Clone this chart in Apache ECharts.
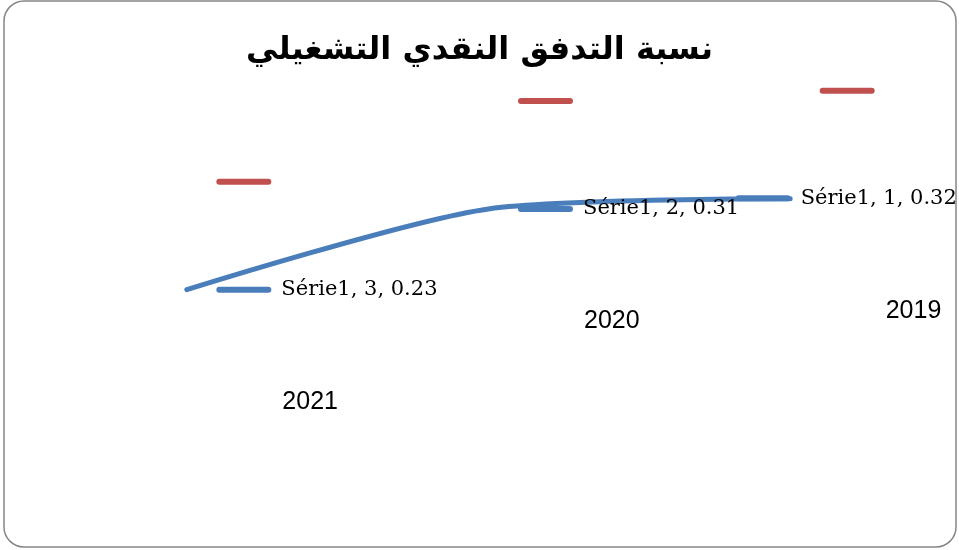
<!DOCTYPE html>
<html><head><meta charset="utf-8">
<script src="https://cdn.jsdelivr.net/npm/echarts@6/dist/echarts.min.js"></script>
<style>html,body{margin:0;padding:0;background:#fff}#c{width:959px;height:550px}</style>
</head><body><div id="c"></div>
<script>
const titleText = 'نسبة التدفق النقدي التشغيلي';
const categories = ['2019', '2020', '2021'];
const seriesName = 'Série1';
const values = [0.32, 0.31, 0.23];

const chart = echarts.init(document.getElementById('c'));
const blueLabelData = values.map((v, i) => i === 0
  ? { value: v, label: { position: [-54, 0], verticalAlign: 'middle', align: 'left' } }
  : v);
const hiddenSymbol = { symbol: 'circle', symbolSize: 1, showSymbol: true, itemStyle: { color: 'rgba(0,0,0,0)' } };
chart.setOption({
  animation: false,
  backgroundColor: '#fff',
  title: {
    text: titleText, left: 'center', top: 30,
    textStyle: { fontFamily: 'DejaVu Sans', fontWeight: 'bold', fontSize: 32, color: '#000' }
  },
  graphic: [{
    type: 'rect', shape: { x: 4, y: 1, width: 952, height: 546, r: 20 },
    style: { fill: 'none', stroke: '#868686', lineWidth: 1.5 }, z: -1
  }],
  grid: { left: 36, right: 18, top: 17, bottom: 28 },
  xAxis: {
    type: 'category', data: categories, inverse: true, boundaryGap: true,
    axisLine: { show: false }, axisTick: { show: false }, axisLabel: { show: false }, splitLine: { show: false }
  },
  yAxis: {
    type: 'value', min: 0, max: 0.5, show: false, splitLine: { show: false }
  },
  series: [
    Object.assign({
      type: 'line', name: seriesName, data: blueLabelData, smooth: 0.25,
      lineStyle: { color: '#4A7EBB', width: 5, cap: 'round' },
      label: {
        show: true, position: 'right', distance: 29,
        formatter: p => '{k|}{t|' + seriesName + ', ' + (p.dataIndex + 1) + ', ' + p.value + '}',
        rich: {
          k: { width: 55, height: 6, backgroundColor: '#4A7EBB', borderRadius: 3, verticalAlign: 'middle' },
          t: { fontFamily: 'DejaVu Serif', fontSize: 21, color: '#000', padding: [0, 0, 0, 10], verticalAlign: 'middle' }
        }
      },
      labelLayout: { hideOverlap: false },
      z: 3
    }, hiddenSymbol),
    Object.assign({
      type: 'line', name: 'keys', data: values, lineStyle: { opacity: 0 },
      label: {
        show: true, position: 'right', distance: 29, offset: [0, -108],
        formatter: () => '{k|}',
        rich: { k: { width: 55, height: 6, backgroundColor: '#C0504D', borderRadius: 3 } }
      },
      silent: true
    }, hiddenSymbol),
    Object.assign({
      type: 'line', name: 'years', data: values, lineStyle: { opacity: 0 },
      label: {
        show: true, position: 'right', distance: 95, offset: [0, 112],
        formatter: p => categories[p.dataIndex],
        fontFamily: 'Liberation Sans', fontSize: 25, color: '#000'
      },
      silent: true
    }, hiddenSymbol)
  ]
});
</script></body></html>
